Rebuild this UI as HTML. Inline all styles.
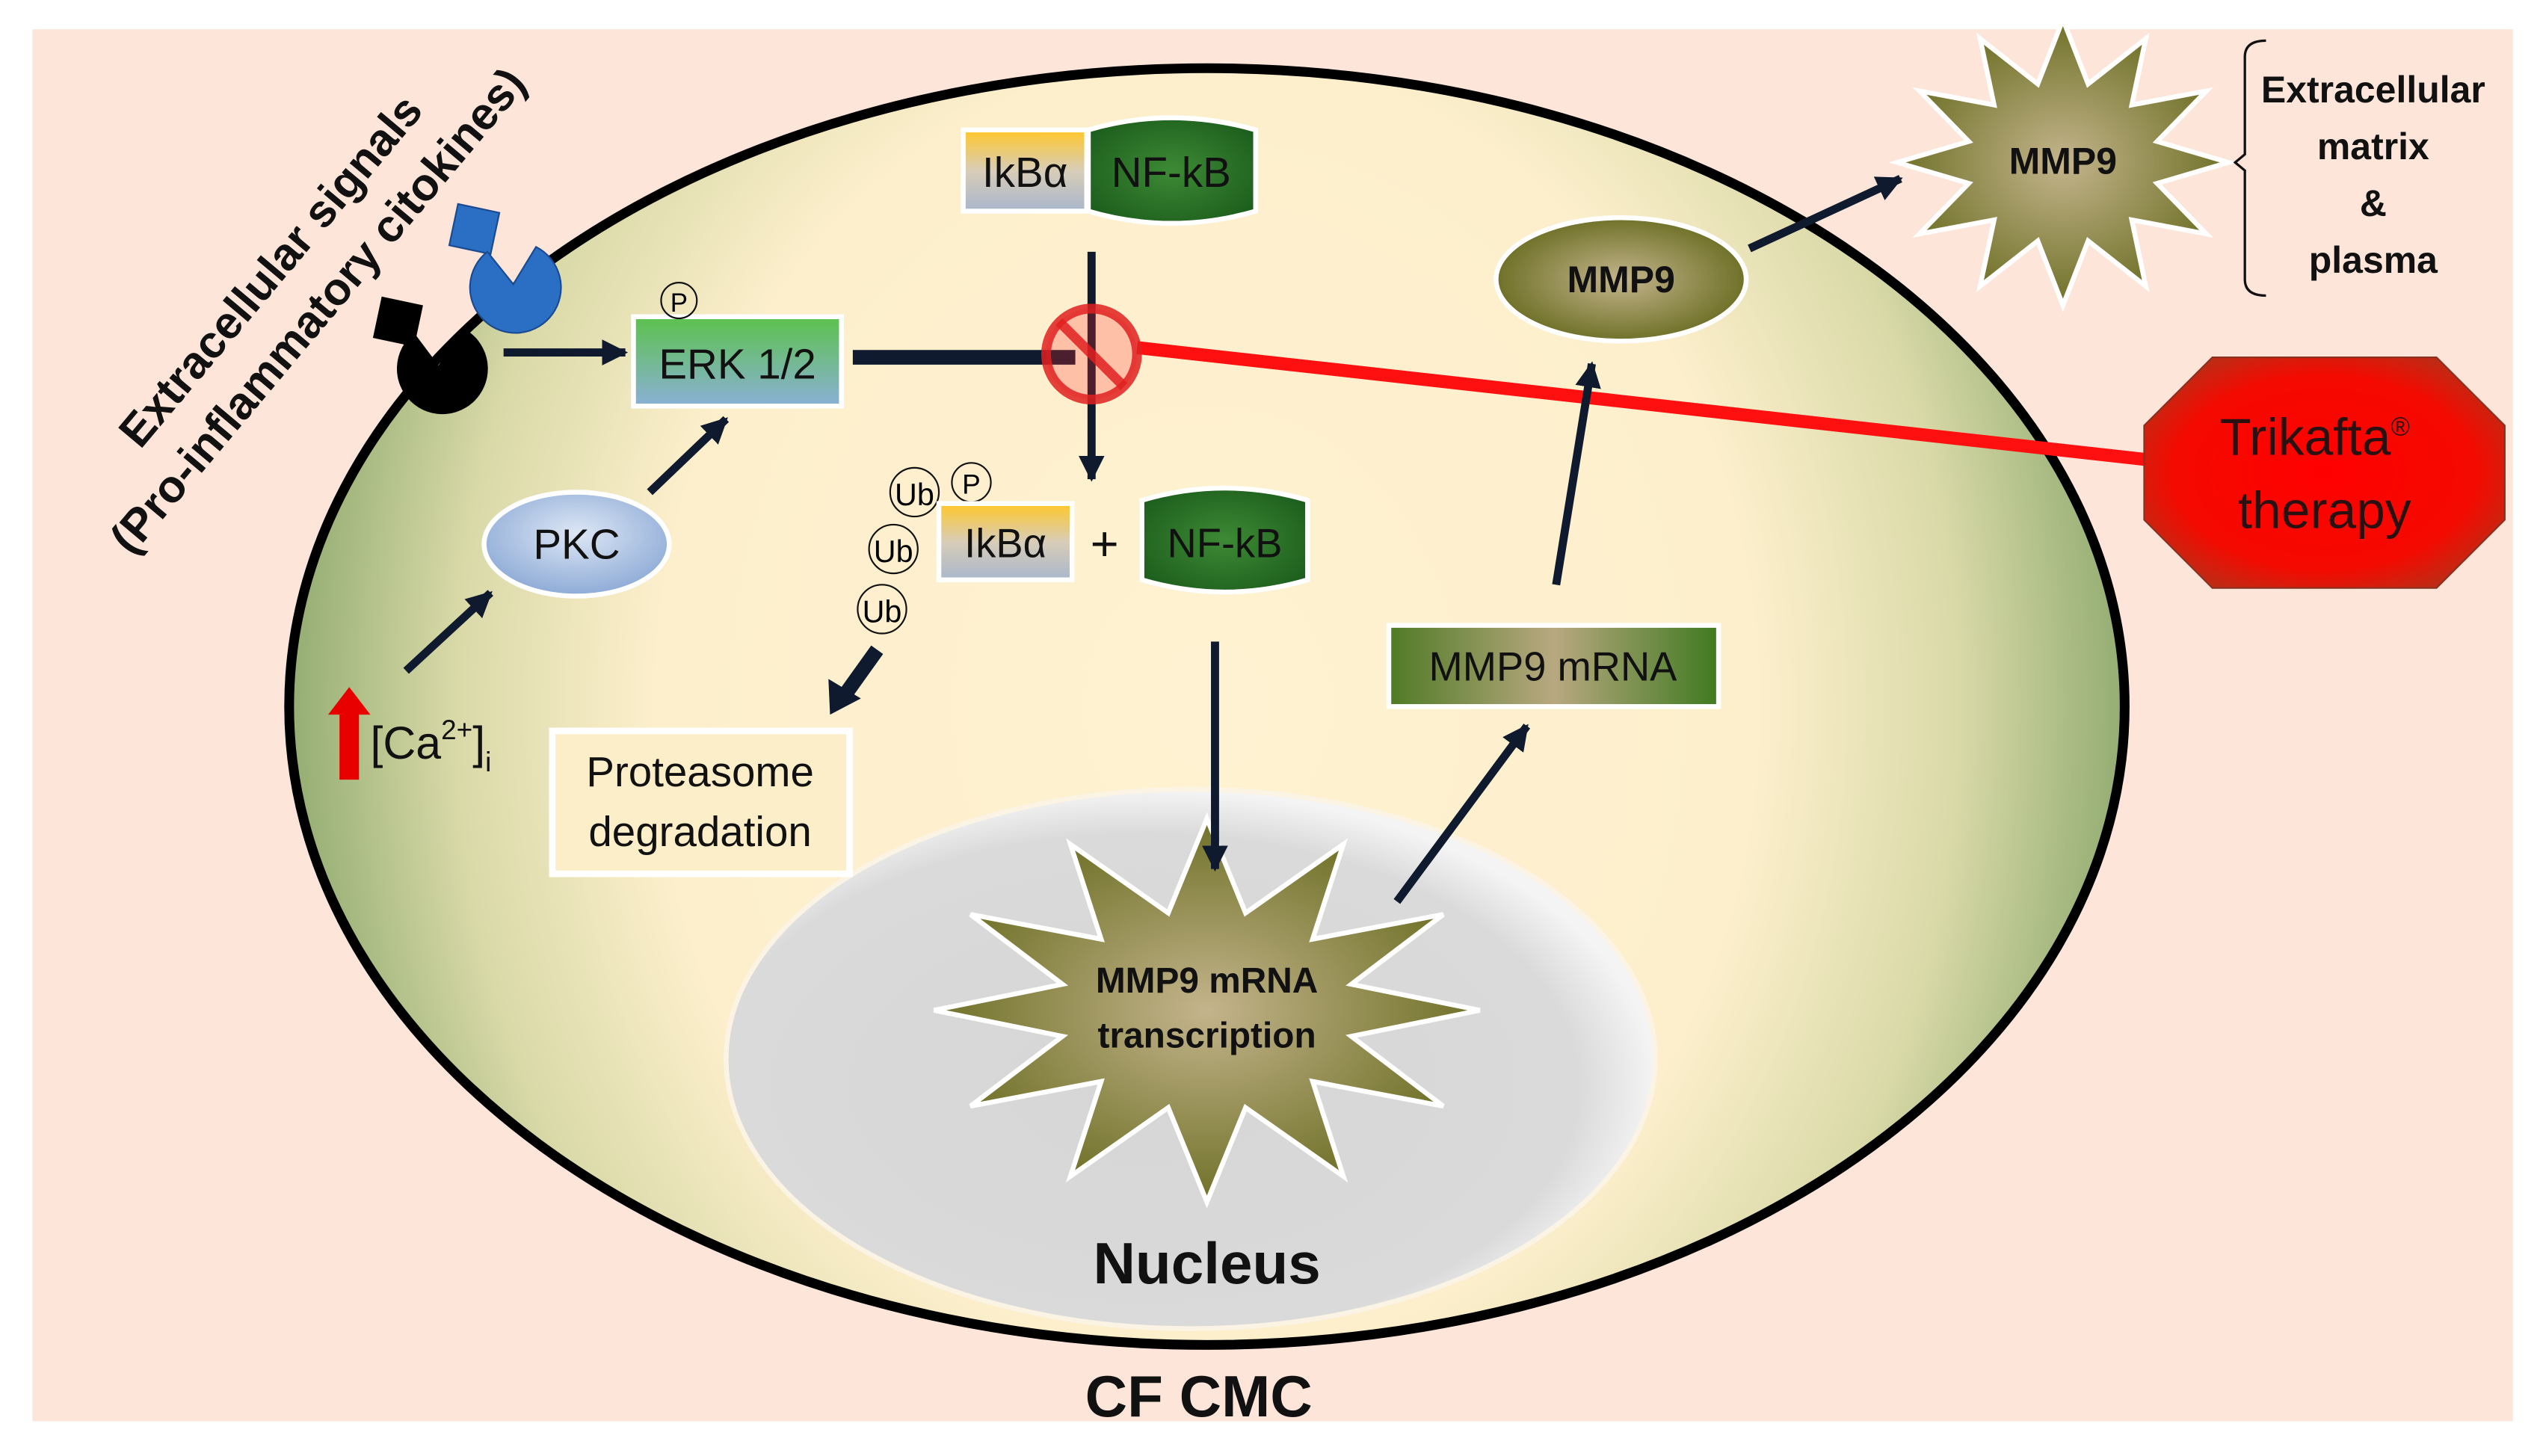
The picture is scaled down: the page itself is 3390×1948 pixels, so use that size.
<!DOCTYPE html>
<html><head><meta charset="utf-8"><style>
html,body{margin:0;padding:0;background:#fff;}
svg{display:block;}
text{font-family:"Liberation Sans Narrow","Liberation Sans",sans-serif;}
</style></head><body>
<svg id="s" width="3390" height="1948" viewBox="0 0 1560 896.4" preserveAspectRatio="none" xmlns="http://www.w3.org/2000/svg">
<defs>
<radialGradient id="cell" cx="0.5" cy="0.5" r="0.5" gradientTransform="translate(0.5,0.5) scale(1,1.7) translate(-0.5,-0.5)">
<stop offset="0" stop-color="#fff2d2"/><stop offset="0.6" stop-color="#fdefcc"/><stop offset="0.82" stop-color="#d9d9a8"/><stop offset="1" stop-color="#93ad72"/></radialGradient>
<radialGradient id="nuc" cx="0.45" cy="0.55" r="0.55"><stop offset="0" stop-color="#d6d6d6"/><stop offset="0.85" stop-color="#dadada"/><stop offset="1" stop-color="#f4f4f4"/></radialGradient>
<radialGradient id="olive" cx="0.5" cy="0.5" r="0.5"><stop offset="0" stop-color="#c4b48c"/><stop offset="1" stop-color="#6f7128"/></radialGradient>
<linearGradient id="olh" x1="0" x2="1"><stop offset="0" stop-color="#4f7a25"/><stop offset="0.5" stop-color="#b8a880"/><stop offset="1" stop-color="#3f7a20"/></linearGradient>
<linearGradient id="erk" x1="0" y1="0" x2="0" y2="1"><stop offset="0" stop-color="#5cc24c"/><stop offset="1" stop-color="#8ab0d6"/></linearGradient>
<linearGradient id="ikb" x1="0" y1="0" x2="0" y2="1"><stop offset="0" stop-color="#ffc72a"/><stop offset="0.5" stop-color="#d8cdb8"/><stop offset="1" stop-color="#a9b6cc"/></linearGradient>
<radialGradient id="nfkb" cx="0.5" cy="0.5" r="0.6"><stop offset="0" stop-color="#3d8a35"/><stop offset="1" stop-color="#1d5e1d"/></radialGradient>
<radialGradient id="pkc" cx="0.5" cy="0.4" r="0.6"><stop offset="0" stop-color="#dde7f5"/><stop offset="1" stop-color="#8daad6"/></radialGradient>
<radialGradient id="trik" cx="0.5" cy="0.5" r="0.6"><stop offset="0" stop-color="#ff0000"/><stop offset="0.7" stop-color="#f40a00"/><stop offset="1" stop-color="#b63018"/></radialGradient>
<marker id="ah" viewBox="0 0 10 10" refX="9" refY="5" markerWidth="3.2" markerHeight="3.2" orient="auto"><path d="M0,0L10,5L0,10z" fill="#0f1a2e"/></marker>
</defs>
<rect x="20" y="18" width="1527" height="857" fill="#fde5d9"/>
<ellipse cx="743" cy="435" rx="565" ry="393" fill="url(#cell)" stroke="#000" stroke-width="6"/>
<ellipse cx="733" cy="652" rx="286" ry="166" fill="url(#nuc)" stroke="#fbf3e4" stroke-width="3"/>
<polygon id="star1" fill="url(#olive)" stroke="#fff" stroke-width="3"/>
<polygon id="star2" fill="url(#olive)" stroke="#fff" stroke-width="3"/>
<text x="743" y="611" font-size="22" font-weight="bold" text-anchor="middle" fill="#111">MMP9 mRNA</text>
<text x="743" y="645" font-size="22" font-weight="bold" text-anchor="middle" fill="#111">transcription</text>
<text x="743" y="790" font-size="36" font-weight="bold" text-anchor="middle" fill="#111">Nucleus</text>
<text x="738" y="872" font-size="36" font-weight="bold" text-anchor="middle" fill="#111">CF CMC</text>
<text x="1270" y="107" font-size="23" font-weight="bold" text-anchor="middle" fill="#111">MMP9</text>
<g transform="translate(180,178) rotate(-50)">
<text x="0" y="-8" font-size="28" font-weight="bold" text-anchor="middle" fill="#111">Extracellular signals</text>
<text x="0" y="30" font-size="28" font-weight="bold" text-anchor="middle" fill="#111">(Pro-inflammatory citokines)</text>
</g>
<rect x="279" y="128" width="26" height="26" fill="#2a6fc4" stroke="#1a4a90" transform="rotate(12 292 141)"/>
<path d="M316,175 L300,155 A28,28 0 1 0 330,152 Z" fill="#2a6fc4" stroke="#1a4a90"/>
<rect x="232" y="185" width="26" height="26" fill="#000" transform="rotate(12 245 198)"/>
<path d="M270,225 L255,205 A28,28 0 1 0 285,202 Z" fill="#000"/>
<line x1="310" y1="217" x2="385" y2="217" stroke="#0f1a2e" stroke-width="5" marker-end="url(#ah)"/>
<rect x="390" y="195" width="128" height="55" fill="url(#erk)" stroke="#fff" stroke-width="3"/>
<text x="454" y="233" font-size="26" text-anchor="middle" fill="#111">ERK 1/2</text>
<circle cx="418" cy="185" r="11" fill="none" stroke="#111" stroke-width="1"/><text x="418" y="192" font-size="16" text-anchor="middle">P</text>
<line x1="525" y1="220" x2="662" y2="220" stroke="#0f1a2e" stroke-width="9"/>
<line x1="672" y1="155" x2="672" y2="295" stroke="#0f1a2e" stroke-width="5" marker-end="url(#ah)"/>
<line x1="700" y1="214" x2="1322" y2="283" stroke="#ff1010" stroke-width="8"/>
<circle cx="672" cy="218" r="28" fill="#ff3030" fill-opacity="0.25" stroke="#e02020" stroke-opacity="0.85" stroke-width="6"/>
<line x1="652" y1="198" x2="692" y2="238" stroke="#e02020" stroke-opacity="0.85" stroke-width="6"/>
<rect x="593" y="80" width="76" height="50" fill="url(#ikb)" stroke="#fff" stroke-width="3"/>
<text x="631" y="115" font-size="26" text-anchor="middle" fill="#111">IkBα</text>
<path d="M670,80 Q721,65 773,80 L773,130 Q721,145 670,130 Z" fill="url(#nfkb)" stroke="#fff" stroke-width="3"/>
<text x="721" y="115" font-size="26" text-anchor="middle" fill="#111">NF-kB</text>
<circle cx="563" cy="303" r="15" fill="none" stroke="#111"/><text x="563" y="311" font-size="19" text-anchor="middle">Ub</text>
<circle cx="598" cy="297" r="12" fill="none" stroke="#111"/><text x="598" y="304" font-size="17" text-anchor="middle">P</text>
<circle cx="550" cy="338" r="15" fill="none" stroke="#111"/><text x="550" y="346" font-size="19" text-anchor="middle">Ub</text>
<circle cx="543" cy="375" r="15" fill="none" stroke="#111"/><text x="543" y="383" font-size="19" text-anchor="middle">Ub</text>
<rect x="578" y="310" width="82" height="47" fill="url(#ikb)" stroke="#fff" stroke-width="3"/>
<text x="619" y="343" font-size="25" text-anchor="middle" fill="#111">IkBα</text>
<text x="680" y="345" font-size="30" text-anchor="middle" fill="#111">+</text>
<path d="M703,308 Q754,293 805,308 L805,357 Q754,372 703,357 Z" fill="url(#nfkb)" stroke="#fff" stroke-width="3"/>
<text x="754" y="343" font-size="25" text-anchor="middle" fill="#111">NF-kB</text>
<line x1="540" y1="400" x2="520" y2="428" stroke="#0f1a2e" stroke-width="9"/>
<path d="M511,440 L510,418 L530,430 Z" fill="#0f1a2e"/>
<rect x="340" y="450" width="183" height="88" fill="#fbeec9" stroke="#fff" stroke-width="4"/>
<text x="431" y="484" font-size="26" text-anchor="middle" fill="#111">Proteasome</text>
<text x="431" y="521" font-size="26" text-anchor="middle" fill="#111">degradation</text>
<line x1="748" y1="395" x2="748" y2="535" stroke="#0f1a2e" stroke-width="5" marker-end="url(#ah)"/>
<ellipse cx="355" cy="335" rx="57" ry="32" fill="url(#pkc)" stroke="#fff" stroke-width="3"/>
<text x="355" y="344" font-size="26" text-anchor="middle" fill="#111">PKC</text>
<line x1="400" y1="303" x2="447" y2="258" stroke="#0f1a2e" stroke-width="5" marker-end="url(#ah)"/>
<line x1="250" y1="413" x2="302" y2="365" stroke="#0f1a2e" stroke-width="5" marker-end="url(#ah)"/>
<path d="M209,480 L209,440 L202,440 L215,423 L228,440 L221,440 L221,480 Z" fill="#e80000"/>
<text x="228" y="467" font-size="28" fill="#111">[Ca<tspan font-size="17" dy="-12">2+</tspan><tspan dy="12">]</tspan><tspan font-size="17" dy="8">i</tspan></text>
<rect x="855" y="385" width="203" height="50" fill="url(#olh)" stroke="#fff" stroke-width="3"/>
<text x="956" y="419" font-size="25" text-anchor="middle" fill="#111">MMP9 mRNA</text>
<line x1="860" y1="555" x2="940" y2="447" stroke="#0f1a2e" stroke-width="5" marker-end="url(#ah)"/>
<line x1="958" y1="360" x2="980" y2="224" stroke="#0f1a2e" stroke-width="5" marker-end="url(#ah)"/>
<ellipse cx="998" cy="172" rx="77" ry="38" fill="url(#olive)" stroke="#fff" stroke-width="3"/>
<text x="998" y="180" font-size="23" font-weight="bold" text-anchor="middle" fill="#111">MMP9</text>
<line x1="1077" y1="153" x2="1170" y2="110" stroke="#0f1a2e" stroke-width="5" marker-end="url(#ah)"/>
<path d="M1395,25 Q1382,25 1382,35 L1382,95 L1376,100 L1382,105 L1382,172 Q1382,182 1395,182" fill="none" stroke="#111" stroke-width="1.5"/>
<g font-size="23" font-weight="bold" text-anchor="middle" fill="#111">
<text x="1461" y="63">Extracellular</text><text x="1461" y="98">matrix</text><text x="1461" y="133">&amp;</text><text x="1461" y="168">plasma</text></g>
<polygon points="1362,220 1500,220 1542,262 1542,320 1500,362 1362,362 1320,320 1320,262" fill="url(#trik)" stroke="#8a3020" stroke-width="1"/>
<text x="1425" y="280" font-size="32" text-anchor="middle" fill="#2a1010">Trikafta<tspan font-size="16" dy="-12">®</tspan></text>
<text x="1431" y="325" font-size="32" text-anchor="middle" fill="#2a1010">therapy</text>
</svg>
<script>
function star(id,cx,cy,n,rxo,ryo,rxi,ryi,rot){var p=[];for(var i=0;i<2*n;i++){var a=rot+Math.PI*i/n;var o=i%2==0;p.push((cx+Math.cos(a)*(o?rxo:rxi)).toFixed(1)+","+(cy+Math.sin(a)*(o?ryo:ryi)).toFixed(1));}document.getElementById(id).setAttribute("points",p.join(" "));}
star("star1",743,622,12,168,118,92,62,-Math.PI/2);
star("star2",1270,100,12,102,88,60,50,-Math.PI/2);
</script>
</body></html>
